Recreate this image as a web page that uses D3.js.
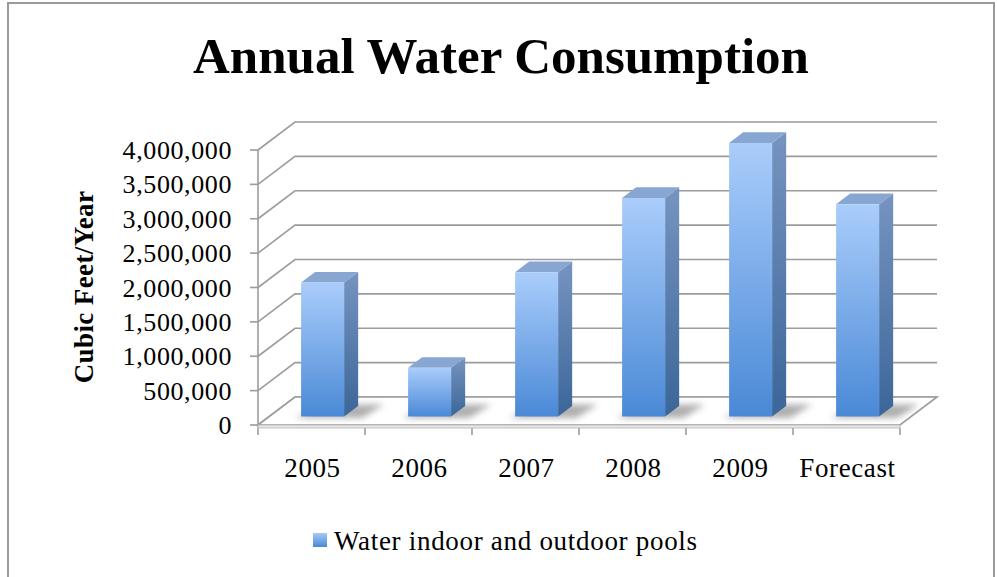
<!DOCTYPE html>
<html>
<head>
<meta charset="UTF-8">
<title>Annual Water Consumption</title>
<script src="https://cdn.jsdelivr.net/npm/d3@7"></script>
<style>
  body { margin: 0; background: #fff; }
  text { font-family: "Liberation Serif", "Times New Roman", serif; fill: #000; }
</style>
</head>
<body>
<script>
  // data
  var categories = ["2005", "2006", "2007", "2008", "2009", "Forecast"];
  var values = [1950000, 710000, 2100000, 3180000, 3980000, 3090000];
  var tickValues = [0, 500000, 1000000, 1500000, 2000000, 2500000, 3000000, 3500000, 4000000];
  var seriesName = "Water indoor and outdoor pools";
  var yTitle = "Cubic Feet/Year";
  var title = "Annual Water Consumption";

  var width = 997, height = 577;
  var depthX = 37, depthY = -28;   // offset of the back wall
  var d0 = 0.3, d1 = 0.68;          // bar depth range
  var barW = 43;

  var svg = d3.select("body").append("svg")
      .attr("width", width)
      .attr("height", height);

  var defs = svg.append("defs");
  function grad(id, c1, c2) {
    var g = defs.append("linearGradient").attr("id", id)
        .attr("x1", 0).attr("y1", 0).attr("x2", 0).attr("y2", 1);
    g.append("stop").attr("offset", "0%").attr("stop-color", c1);
    g.append("stop").attr("offset", "100%").attr("stop-color", c2);
  }
  grad("front", "#aacdfb", "#4a89d6");
  grad("side", "#7694c0", "#3b6699");
  grad("legend", "#a6c8f6", "#4a89d6");
  defs.append("filter").attr("id", "blur")
      .attr("x", "-50%").attr("y", "-50%").attr("width", "200%").attr("height", "200%")
      .append("feGaussianBlur").attr("stdDeviation", 3);

  // chart border
  svg.append("rect")
      .attr("x", 8).attr("y", 3).attr("width", 986).attr("height", 620)
      .attr("fill", "none").attr("stroke", "#9a9a9a").attr("stroke-width", 2);

  var x = d3.scaleBand().domain(categories).range([258, 900]);
  var y = d3.scaleLinear().domain([0, 4000000]).range([425, 150]);

  function proj(px, v, d) {
    return [px + depthX * d, y(v) + depthY * d];
  }
  function poly(pts) { return "M" + pts.map(function(p) { return p.join(","); }).join("L") + "Z"; }

  var grid = svg.append("g")
      .attr("fill", "none").attr("stroke", "#9c9c9c").attr("stroke-width", 1.6);

  // floor
  var x0 = x.range()[0], x1 = x.range()[1];
  svg.append("path")
      .attr("d", poly([proj(x0, 0, 0), proj(x1, 0, 0), proj(x1, 0, 1), proj(x0, 0, 1)]))
      .attr("fill", "#fff").attr("stroke", "#9c9c9c").attr("stroke-width", 1.6);
  svg.append("rect")
      .attr("x", x0).attr("y", y(0)).attr("width", x1 - x0).attr("height", 3)
      .attr("fill", "#e6e6e6").attr("stroke", "#b5b5b5").attr("stroke-width", 0.8);

  // back wall + side wall gridlines
  tickValues.forEach(function(t) {
    grid.append("path").attr("d", "M" + proj(x0, t, 0) + "L" + proj(x0, t, 1) + "L" + proj(x1, t, 1));
  });

  // value axis
  grid.append("line")
      .attr("x1", x0).attr("x2", x0).attr("y1", y(4000000)).attr("y2", y(0) + 3);
  tickValues.forEach(function(t) {
    grid.append("line").attr("x1", x0 - 8).attr("x2", x0).attr("y1", y(t)).attr("y2", y(t));
  });
  svg.append("g").selectAll("text").data(tickValues).enter().append("text")
      .attr("x", 232).attr("y", function(d) { return y(d) + 9; })
      .attr("text-anchor", "end")
      .style("font-size", "26px").style("letter-spacing", "0.6px")
      .text(d3.format(","));

  // category ticks and labels
  var catTicks = categories.map(function(c) { return x(c); }).concat([x1]);
  grid.selectAll(".ct").data(catTicks).enter().append("line")
      .attr("x1", function(d) { return d; }).attr("x2", function(d) { return d; })
      .attr("y1", y(0) + 3).attr("y2", y(0) + 10);
  svg.append("g").selectAll("text").data(categories).enter().append("text")
      .attr("x", function(d) { return x(d) + x.bandwidth() / 2 + 1; })
      .attr("y", 477)
      .attr("text-anchor", "middle")
      .style("font-size", "27px").style("letter-spacing", "0.6px")
      .text(function(d) { return d; });

  // bars
  var bars = svg.append("g").selectAll("g").data(categories).enter().append("g");
  bars.each(function(c, i) {
    var g = d3.select(this);
    var v = values[i];
    var xl = x(c) + (x.bandwidth() - barW) / 2, xr = xl + barW;
    // shadow on the floor
    g.append("path")
        .attr("d", poly([proj(xl - 4, 0, d0 - 0.05), proj(xr + 20, 0, d0 - 0.05),
                          proj(xr + 24, 0, d1 + 0.05), proj(xl + 8, 0, d1 + 0.05)]))
        .attr("fill", "#7a7a7a").attr("opacity", 0.6).attr("filter", "url(#blur)");
    g.append("path")
        .attr("d", poly([proj(xr, 0, d0), proj(xr, 0, d1), proj(xr, v, d1), proj(xr, v, d0)]))
        .attr("fill", "url(#side)");
    g.append("path")
        .attr("d", poly([proj(xl, v, d0), proj(xr, v, d0), proj(xr, v, d1), proj(xl, v, d1)]))
        .attr("fill", "#87a6d2");
    g.append("path")
        .attr("d", poly([proj(xl, 0, d0), proj(xr, 0, d0), proj(xr, v, d0), proj(xl, v, d0)]))
        .attr("fill", "url(#front)");
  });

  // title
  svg.append("text")
      .attr("x", 501).attr("y", 73)
      .attr("text-anchor", "middle")
      .style("font-size", "51px").style("font-weight", "bold")
      .text(title);

  // y axis title
  svg.append("text")
      .attr("transform", "translate(93,287) rotate(-90)")
      .attr("text-anchor", "middle")
      .style("font-size", "27px").style("font-weight", "bold")
      .style("letter-spacing", "0.4px")
      .text(yTitle);

  // legend
  svg.append("rect")
      .attr("x", 313).attr("y", 533).attr("width", 14).attr("height", 14)
      .attr("fill", "url(#legend)");
  svg.append("text")
      .attr("x", 334).attr("y", 550)
      .style("font-size", "27px").style("letter-spacing", "0.7px")
      .text(seriesName);
</script>
</body>
</html>
